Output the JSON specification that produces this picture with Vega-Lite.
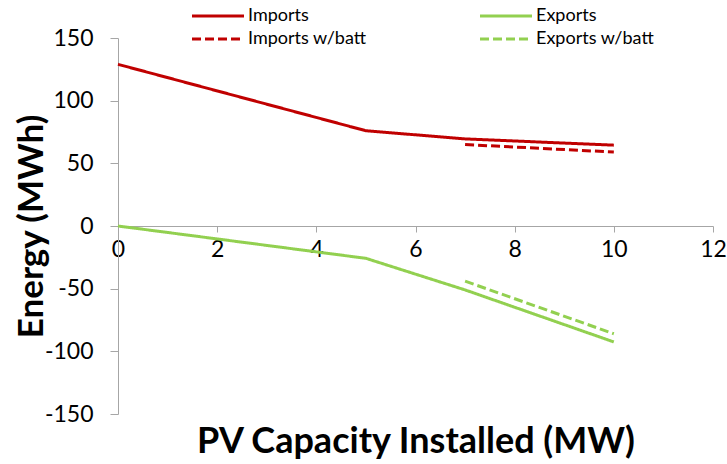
{
  "$schema": "https://vega.github.io/schema/vega-lite/v6.json",
  "autosize": {"type": "none"},
  "width": 595,
  "height": 376,
  "padding": {"left": 118, "top": 38, "right": 14, "bottom": 50},
  "background": "white",
  "config": {"view": {"stroke": null}, "font": "Lato"},
  "data": {"values": [
    {"pv": 0, "energy": 129, "series": "Imports"},
    {"pv": 5, "energy": 76, "series": "Imports"},
    {"pv": 7, "energy": 69.5, "series": "Imports"},
    {"pv": 10, "energy": 64.5, "series": "Imports"},
    {"pv": 7, "energy": 65, "series": "Imports w/batt"},
    {"pv": 10, "energy": 59, "series": "Imports w/batt"},
    {"pv": 0, "energy": 0, "series": "Exports"},
    {"pv": 5, "energy": -25.8, "series": "Exports"},
    {"pv": 7, "energy": -51, "series": "Exports"},
    {"pv": 10, "energy": -92.5, "series": "Exports"},
    {"pv": 7, "energy": -44, "series": "Exports w/batt"},
    {"pv": 10, "energy": -86, "series": "Exports w/batt"}
  ]},
  "mark": {"type": "line", "strokeWidth": 3},
  "encoding": {
    "x": {
      "field": "pv", "type": "quantitative",
      "scale": {"domain": [0, 12], "nice": false, "zero": false},
      "axis": {
        "values": [0, 2, 4, 6, 8, 10, 12],
        "offset": -188,
        "grid": false,
        "domainColor": "#a6a6a6", "tickColor": "#a6a6a6", "tickSize": 6,
        "labelFontSize": 23, "labelColor": "#000", "labelPadding": 6,
        "labelFlush": false,
        "title": "PV Capacity Installed (MW)",
        "titleFontSize": 36, "titleFontWeight": "bold", "titleColor": "#000",
        "titleY": 226, "titleBaseline": "alphabetic"
      }
    },
    "y": {
      "field": "energy", "type": "quantitative",
      "scale": {"domain": [-150, 150], "nice": false},
      "axis": {
        "values": [-150, -100, -50, 0, 50, 100, 150],
        "labelExpr": "datum.value < 0 ? '-' + abs(datum.value) : '' + datum.value",
        "grid": false,
        "domainColor": "#a6a6a6", "tickColor": "#a6a6a6", "tickSize": 8,
        "labelFontSize": 23, "labelColor": "#000", "labelPadding": 17,
        "title": "Energy (MWh)",
        "titleFontSize": 35, "titleFontWeight": "bold", "titleColor": "#000",
        "titleX": -87, "titleY": 188, "titleAngle": -90,
        "titleAlign": "center", "titleBaseline": "middle"
      }
    },
    "color": {
      "field": "series", "type": "nominal",
      "scale": {
        "domain": ["Imports", "Imports w/batt", "Exports", "Exports w/batt"],
        "range": ["#C00000", "#C00000", "#92D050", "#92D050"]
      },
      "legend": {
        "title": null, "orient": "none", "legendX": 91, "legendY": -31,
        "columns": 2, "symbolType": "M-4,0H4", "symbolSize": 169,
        "symbolStrokeWidth": 3, "labelFontSize": 18, "labelColor": "#000",
        "labelOffset": 21, "columnPadding": 107, "rowPadding": 5
      }
    },
    "strokeDash": {
      "field": "series", "type": "nominal",
      "scale": {
        "domain": ["Imports", "Imports w/batt", "Exports", "Exports w/batt"],
        "range": [[1, 0], [9, 4], [1, 0], [9, 4]]
      },
      "legend": {
        "title": null, "orient": "none", "legendX": 91, "legendY": -31,
        "columns": 2, "symbolType": "M-4,0H4", "symbolSize": 169,
        "symbolStrokeWidth": 3, "labelFontSize": 18, "labelColor": "#000",
        "labelOffset": 21, "columnPadding": 107, "rowPadding": 5
      }
    }
  }
}
